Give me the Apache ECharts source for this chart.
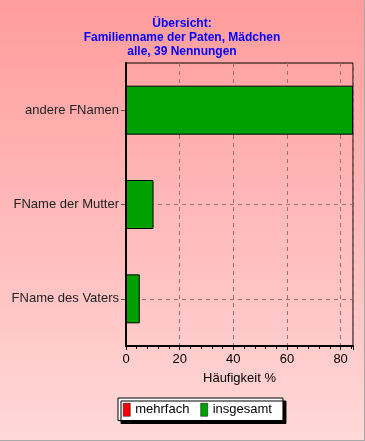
<!DOCTYPE html>
<html><head><meta charset="utf-8">
<script src="https://cdn.jsdelivr.net/npm/echarts@6/dist/echarts.min.js"></script>
<style>
html,body{margin:0;padding:0;}
#c{width:365px;height:441px;background:linear-gradient(to bottom,#ff9c9c 0%,#ffd8d8 100%);box-sizing:border-box;border-right:1px solid #a8a8a8;border-bottom:1px solid #a8a8a8;}
</style>
</head><body>
<div id="c"></div>
<script>
const titleLines = ['Übersicht:', 'Familienname der Paten, Mädchen', 'alle, 39 Nennungen'];
const categories = ['FName des Vaters', 'FName der Mutter', 'andere FNamen'];
const seriesNames = ['mehrfach', 'insgesamt'];
const mehrfach = [0, 0, 0];
const insgesamt = [5.13, 10.26, 84.62];
const xTicks = [0, 20, 40, 60, 80];
const xAxisName = 'Häufigkeit %';

const chart = echarts.init(document.getElementById('c'), null, {renderer: 'canvas'});
chart.setOption({
  animation: false,
  backgroundColor: 'transparent',
  textStyle: {fontFamily: 'Liberation Sans, Arial, sans-serif'},
  title: {
    text: titleLines.join('\n'),
    left: 'center', top: 12,
    textStyle: {color: '#0000ff', fontSize: 12, fontWeight: 'bold', lineHeight: 14, fontFamily: 'Liberation Sans, Arial, sans-serif'}
  },
  legend: {
    data: seriesNames,
    left: 118, top: 398,
    padding: [5, 11, 4, 5],
    itemGap: 11,
    itemWidth: 7, itemHeight: 13,
    icon: 'rect',
    backgroundColor: '#ffffff',
    borderColor: '#000000', borderWidth: 1,
    shadowColor: '#000000', shadowOffsetX: 3, shadowOffsetY: 3, shadowBlur: 0,
    itemStyle: {borderColor: '#000', borderWidth: 0.5},
    textStyle: {fontSize: 13, color: '#000'}
  },
  grid: {left: 126, right: 11, top: 63, bottom: 94, show: true, borderColor: '#000', borderWidth: 1, backgroundColor: 'transparent'},
  xAxis: {
    type: 'value', min: 0, max: Math.max(...insgesamt), interval: 20,
    name: xAxisName, nameLocation: 'middle', nameGap: 26,
    nameTextStyle: {fontSize: 13, color: '#000'},
    axisLine: {show: true, lineStyle: {color: '#000', width: 2}},
    axisTick: {show: true, length: 4, lineStyle: {color: '#000'}},
    minorTick: {show: true, splitNumber: 5, length: 3, lineStyle: {color: '#000'}},
    axisLabel: {fontSize: 13, color: '#000', margin: 7, showMaxLabel: false,
      formatter: v => xTicks.includes(v) ? String(v) : ''},
    splitLine: {show: true, lineStyle: {color: '#9a7070', type: [4, 4], width: 1}}
  },
  yAxis: {
    type: 'category', data: categories,
    axisLine: {show: true, lineStyle: {color: '#000', width: 2}},
    axisTick: {show: true, alignWithLabel: true, length: 5, lineStyle: {color: '#555'}},
    axisLabel: {fontSize: 13, color: '#222', margin: 7},
    splitLine: {show: true, alignWithLabel: true, lineStyle: {color: '#9a7070', type: [4, 4], width: 1}}
  },
  series: [
    {name: seriesNames[0], type: 'bar', data: mehrfach, barWidth: 49, barGap: '-100%',
     itemStyle: {color: '#ff0000', borderColor: '#000', borderWidth: 1}},
    {name: seriesNames[1], type: 'bar', data: insgesamt, barWidth: 49, barGap: '-100%',
     itemStyle: {color: '#00a000', borderColor: '#000', borderWidth: 1}}
  ]
});
</script>
</body></html>
